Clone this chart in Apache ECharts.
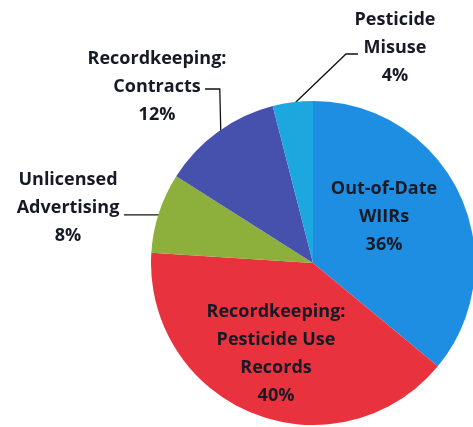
<!DOCTYPE html>
<html>
<head>
<meta charset="utf-8">
<script src="https://cdn.jsdelivr.net/npm/echarts@6/dist/echarts.min.js"></script>
<style>
html,body{margin:0;padding:0;background:#fff;}
#c{width:473px;height:427px;}
</style>
</head>
<body>
<div id="c"></div>
<script>
const categories = [
  'Out-of-Date\nWIIRs',
  'Recordkeeping:\nPesticide Use\nRecords',
  'Unlicensed\nAdvertising',
  'Recordkeeping:\nContracts',
  'Pesticide\nMisuse'
];
const values = [36, 40, 8, 12, 4];
const colors = ['#1e8ee2', '#e8323d', '#8cb03b', '#4651ae', '#1ca8df'];
const insideFlags = [true, true, false, false, false];

// label block centres (layout only)
const labelPos = [
  [384, 217],
  [276, 354],
  [68, 208],
  [157, 87],
  [395, 48]
];

const chart = echarts.init(document.getElementById('c'));
const data = categories.map((name, i) => ({
  name: name,
  value: values[i],
  itemStyle: { color: colors[i] },
  label: { position: insideFlags[i] ? 'inside' : 'outside' },
  labelLine: { show: !insideFlags[i] }
}));

chart.setOption({
  animation: false,
  series: [{
    type: 'pie',
    center: [313, 263],
    radius: 162,
    startAngle: 90,
    clockwise: true,
    data: data,
    label: {
      formatter: '{b}\n{c}%',
      fontFamily: 'Open Sans',
      fontWeight: 'bold',
      fontSize: 18,
      lineHeight: 28,
      color: '#161a26',
      align: 'center',
      overflow: 'none',
      width: 200
    },
    labelLine: {
      lineStyle: { color: '#111', width: 1.3 }
    },
    labelLayout: function (p) {
      const i = p.dataIndex;
      const res = { x: labelPos[i][0], y: labelPos[i][1], align: 'center', verticalAlign: 'middle' };
      if (!insideFlags[i] && p.labelLinePoints) {
        const s = p.labelLinePoints[0];
        if (i === 2) {
          res.labelLinePoints = [[s[0], s[1] + 2], [s[0] - 18, s[1] + 2], [124, s[1] + 2]];
        } else if (i === 3) {
          res.labelLinePoints = [[s[0] + 3, s[1]], [s[0] + 2, 89], [205, 89]];
        } else if (i === 4) {
          res.labelLinePoints = [[s[0] + 3, s[1]], [346, 54], [358, 54]];
        }
      }
      return res;
    },
    emphasis: { disabled: true }
  }]
});
</script>
</body>
</html>
